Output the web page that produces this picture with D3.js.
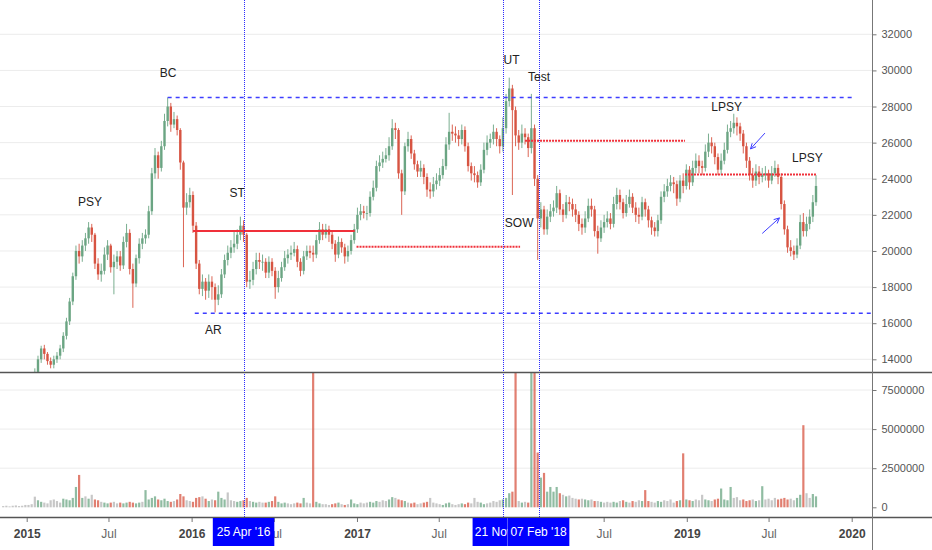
<!DOCTYPE html>
<html>
<head>
<meta charset="utf-8">
<script src="https://cdnjs.cloudflare.com/ajax/libs/d3/7.8.5/d3.min.js"></script>
<style>
  body { margin: 0; background: #fff; }
  svg { display: block; font-family: "Liberation Sans", Arial, sans-serif; }
</style>
</head>
<body>
<svg width="932" height="550"></svg>
<script>
// weekly bars, first week starts 10 Nov 2014
const firstWeek = "2014-11-10";
const firstOpen = 11600;

const closes = [
  11800, 12100, 11900, 12300, 12200, 12500, 12400, 12600,
  12800, 13000, 13300, 14000, 14600, 14300, 13900, 13700, 14000, 14200,
  14600, 15300, 16100, 17200, 18600, 20000, 19700, 20300, 20700, 21300,
  20900, 19300, 18700, 18900, 19800, 20300, 19100, 19400, 19700, 19200,
  20500, 21000, 19000, 18200, 19600, 20400, 20700, 20900, 22200, 24300,
  25300, 24600, 25800, 27200, 28000, 27000, 27300, 26700, 24900, 22400,
  22700, 23100, 21400, 19300, 17900, 18300, 17800, 18300, 18000, 17300,
  17600, 18700, 19500, 19900, 20200, 20400, 20900, 21400, 20900, 18300,
  18400, 19000, 19500, 19400, 19400, 18800, 19400, 18900, 18000, 18500,
  19100, 19600, 19800, 19900, 20100, 19400, 18900, 19700, 20000, 19900,
  19800, 20600, 21200, 20900, 21200, 20900, 20400, 19800, 20500, 20200,
  19700, 20000, 20600, 21200, 22000, 22200, 22100, 22100, 23000, 23500,
  24700, 24900, 25100, 25300, 25800, 26800, 26700, 24300, 23300, 25800,
  26200, 25400, 24800, 24400, 24600, 24100, 23400, 23300, 23700, 23900,
  24200, 24700, 25900, 26600, 26500, 26400, 26200, 26700, 25800, 24700,
  24300, 24200, 23800, 24500, 25600, 26000, 26200, 26600, 26200, 25800,
  26800, 28300, 29000, 27800, 26400, 26000, 26500, 26300, 25700, 26800,
  24000, 21800, 22300, 21200, 21900, 22200, 22400, 23200, 22300, 22000,
  22700, 22600, 22300, 22000, 21500, 21300, 21800, 22500, 22300, 21100,
  20700, 21300, 21600, 21800, 21500, 22600, 23100, 22700, 22100, 22600,
  23000, 22400, 22000, 21900, 22700, 22300, 21700, 21300, 21100, 21700,
  23000, 23300, 23600, 23800, 23700, 22900, 23900, 23600, 24500, 23800,
  24600, 25000, 24700, 24600, 25500, 26000, 25800, 25200, 24500, 25000,
  25600, 26600, 26800, 27100, 26900, 26500, 25800, 25000, 24200, 23900,
  24400, 24100, 24200, 24300, 23900, 24300, 24600, 24100, 22600, 21200,
  20200, 20000, 19800, 20300, 21600, 21100, 21500, 21900, 22700, 23600
];

const highs = [
  12200, 12400, 12300, 12600, 12500, 12800, 12800, 12900,
  13000, 13200, 13500, 14200, 14750, 14800, 14400, 14100, 14200, 14400,
  14800, 15500, 16300, 17400, 18800, 20300, 20400, 20600, 21000, 21600,
  21500, 21000, 19600, 19300, 20200, 20600, 20400, 19800, 20000, 20000,
  20800, 21500, 21200, 19300, 19800, 20700, 21000, 21200, 22500, 24600,
  25700, 25500, 26100, 27600, 28500, 28200, 27700, 27500, 26800, 25000,
  23200, 23500, 23300, 21600, 19500, 18700, 18500, 18700, 18600, 18200,
  18100, 19000, 19800, 20300, 20600, 21100, 21200, 21900, 21700, 21000,
  18900, 19400, 19900, 19900, 19800, 19600, 19700, 19600, 19100, 18900,
  19400, 20000, 20100, 20300, 20500, 20300, 19600, 20000, 20300, 20300,
  20300, 20900, 21600, 21500, 21500, 21400, 21100, 20600, 20800, 20700,
  20400, 20300, 20900, 21500, 22400, 22600, 22500, 22500, 23300, 23900,
  25000, 25300, 25500, 25700, 26300, 27300, 27100, 26800, 24500, 26000,
  26600, 26400, 25600, 25000, 25000, 24800, 24300, 23800, 24100, 24300,
  24600, 25100, 26300, 27650, 27000, 26900, 26700, 27000, 26900, 26000,
  24900, 24700, 24400, 24800, 26000, 26400, 26500, 27000, 26800, 26400,
  27400, 28700, 29600, 29200, 28000, 26700, 27000, 26800, 26500, 28700,
  27000, 24200, 22700, 22500, 22300, 22600, 22800, 23600, 23400, 22600,
  23100, 23000, 22900, 22600, 22200, 21800, 22200, 22900, 22900, 22500,
  21400, 21700, 22000, 22200, 22100, 23000, 23500, 23400, 22900, 23100,
  23400, 23200, 22700, 22400, 23000, 22900, 22500, 21900, 21600, 22000,
  23300, 23700, 24000, 24200, 24100, 23900, 24200, 24300, 24800, 24700,
  25000, 25400, 25300, 25000, 25900, 26500, 26300, 26000, 25400, 25400,
  26000, 27000, 27200, 27600, 27400, 27100, 26700, 26000, 25200, 24600,
  24800, 24700, 24600, 24700, 24500, 24700, 25000, 24800, 24300, 22800,
  21400, 20600, 20300, 20700, 22000, 22100, 21900, 22300, 23100, 24200
];

const lows = [
  11400, 11700, 11600, 11800, 11900, 12000, 12100, 12200,
  12400, 12600, 12800, 13200, 13800, 14000, 13700, 13500, 13500, 13800,
  14000, 14400, 15100, 15900, 17000, 18400, 19300, 19400, 20000, 20400,
  20500, 19000, 18400, 18300, 18700, 19500, 18800, 17600, 19000, 18900,
  19000, 20200, 18700, 16850, 18000, 19300, 20100, 20400, 20700, 22000,
  24000, 24000, 24400, 25600, 26900, 26600, 26800, 26400, 24500, 19100,
  22000, 22400, 21000, 19000, 17600, 17500, 17300, 17400, 17300, 16600,
  17000, 17400, 18500, 19200, 19600, 19900, 20100, 20600, 20500, 18000,
  17900, 18100, 18700, 19000, 18900, 18500, 18500, 18600, 17350, 17700,
  18300, 18900, 19300, 19500, 19700, 19100, 18600, 18700, 19500, 19600,
  19400, 19600, 20400, 20600, 20700, 20500, 20100, 19400, 19600, 19900,
  19300, 19400, 19800, 20400, 21000, 21700, 21800, 21700, 21900, 22800,
  23300, 24400, 24600, 24900, 25000, 25600, 26200, 24000, 22000, 23100,
  25500, 25100, 24500, 24100, 24100, 23700, 23000, 22900, 23000, 23400,
  23600, 24000, 24500, 25600, 26100, 26000, 25800, 25900, 25500, 24400,
  23900, 23800, 23500, 23600, 24300, 25300, 25700, 25900, 25800, 25400,
  25500, 26500, 28000, 23100, 25800, 25600, 25700, 25900, 25200, 25400,
  23600, 19500, 21300, 20900, 20900, 21600, 21900, 22100, 22000, 21600,
  21800, 22200, 21900, 21600, 21100, 20900, 21000, 21600, 21900, 20800,
  19850, 20500, 21000, 21300, 21200, 21300, 22300, 22300, 21800, 21900,
  22400, 22100, 21600, 21500, 21700, 21900, 21300, 20900, 20800, 20800,
  21500, 22700, 23000, 23300, 23200, 22500, 22700, 23200, 23400, 23400,
  23600, 24300, 24300, 24200, 24400, 25200, 25400, 24800, 24200, 24200,
  24800, 25400, 26300, 26500, 26400, 26100, 25400, 24600, 23900, 23500,
  23600, 23700, 23800, 23900, 23500, 23700, 24100, 23700, 22300, 20900,
  19900, 19700, 19500, 19600, 20100, 20800, 20800, 21200, 21600, 22500
];

// peak daily volume of each week, millions
const volumesM = [
  0.08, 0.1, 0.06, 0.1, 0.12, 0.08, 0.1, 0.15,
  0.15, 0.2, 0.68, 0.45, 0.35, 0.3, 0.25, 0.45, 0.5, 0.4,
  0.3, 0.55, 0.5, 0.45, 0.6, 1.3, 2.07, 0.6, 0.7, 0.55,
  0.8, 0.5, 0.45, 0.35, 0.3, 0.25, 0.3, 0.35, 0.25, 0.3,
  0.25, 0.3, 0.35, 0.3, 0.25, 0.3, 0.35, 1.1, 0.5, 0.6,
  0.7, 0.5, 0.45, 0.55, 0.4, 0.35, 0.4, 0.5, 0.85, 0.7,
  0.45, 0.4, 0.35, 0.6, 0.65, 0.7, 0.55, 0.4, 0.5, 0.45,
  1.0, 0.6, 0.5, 0.95, 0.45, 0.4, 0.35, 0.4, 0.45, 0.6,
  0.4, 0.35, 0.3, 0.35, 0.3, 0.3, 0.35, 0.4, 0.7, 0.35,
  0.25, 0.3, 0.25, 0.2, 0.25, 0.3, 0.25, 0.6, 0.3, 0.25,
  10, 0.35, 0.25, 0.2, 0.2, 0.15, 0.2, 0.25, 0.3, 0.2,
  0.15, 0.2, 0.5, 0.25, 0.2, 0.3, 0.25, 0.3, 0.35, 0.3,
  0.4, 0.35, 0.45, 0.4, 0.5, 0.65, 0.6, 0.5, 0.45, 0.4,
  0.3, 0.25, 0.3, 0.2, 0.25, 0.3, 0.35, 0.6, 0.3, 0.25,
  0.2, 0.15, 0.25, 0.3, 0.2, 0.15, 0.2, 0.25, 0.2, 0.3,
  0.25, 0.6, 0.35, 0.3, 0.2, 0.25, 0.3, 0.4, 0.35, 0.45,
  0.5, 0.6, 0.9, 1.0, 10, 0.4, 0.3, 0.35, 0.3, 10,
  10, 3.5, 1.9, 2.2, 1.0, 1.3, 1.0, 1.3, 0.9, 0.8,
  0.7, 0.75, 0.6, 0.55, 0.5, 0.55, 0.5, 0.45, 0.5, 0.4,
  0.4, 0.35, 0.3, 0.35, 0.3, 0.35, 0.3, 0.4, 0.45, 0.35,
  0.3, 0.4, 0.35, 0.45, 0.4, 1.1, 0.4, 0.35, 0.3, 0.4,
  0.35, 0.45, 0.4, 0.5, 0.3, 0.4, 0.45, 3.45, 0.5, 0.45,
  0.4, 0.5, 0.45, 0.8, 0.5, 0.45, 0.4, 0.5, 0.55, 1.2,
  0.5, 0.45, 1.3, 0.6, 0.65, 0.45, 0.5, 0.4, 0.45, 0.5,
  0.4, 0.45, 1.35, 0.5, 0.55, 0.45, 0.6, 0.5, 0.55, 0.6,
  0.5, 0.55, 0.45, 0.6, 0.8, 5.25, 0.9, 0.6, 0.85, 0.7
];

const priceTicks = [14000, 16000, 18000, 20000, 22000, 24000, 26000, 28000, 30000, 32000];
const volumeTicks = [0, 2500000, 5000000, 7500000];

// drawn levels: [start, end, price]
const redLevels = [
  ["2016-01-04", "2016-12-27", 21100],
  ["2016-12-31", "2017-12-28", 20230],
  ["2018-01-08", "2018-12-28", 26100],
  ["2018-12-28", "2019-10-15", 24240]
];
const blueLevels = [
  ["2015-11-09", "2020-01-01", 28500],
  ["2016-01-08", "2020-03-01", 16550]
];

const markerDates = ["2016-04-25", "2017-11-21", "2018-02-07"];
const markerLabels = ["25 Apr '16", "21 Nov '17", "07 Feb '18"];

const phaseNames = ["PSY", "BC", "AR", "ST", "UT", "Test", "SOW", "LPSY", "LPSY"];
const phaseDates = ["2015-05-21", "2015-11-10", "2016-02-18", "2016-04-11", "2017-12-09",
                    "2018-02-08", "2017-12-26", "2019-03-30", "2019-09-25"];
const phasePrices = [22730, 29870, 15620, 23230, 30610, 29620, 21560, 27990, 25160];

// arrows: [from date, from price, to date, to price]
const arrows = [
  ["2019-06-23", 26530, "2019-05-22", 25650],
  ["2019-06-17", 20970, "2019-07-25", 21830]
];

const upColor = "#6ba583", downColor = "#d75442", levelBlue = "#3d3dff";

const parseDay = d3.timeParse("%Y-%m-%d");
const svg = d3.select("svg");

const x = d3.scaleTime()
  .domain([parseDay("2015-01-01"), parseDay("2020-01-01")])
  .range([26.7, 851.7]);
const y = d3.scaleLinear().domain([14000, 32000]).range([359.3, 34.3]);
const yVol = d3.scaleLinear().domain([0, 7500000]).range([507.3, 390]);

const bars = closes.map(function(c, i) {
  return {
    date: d3.timeDay.offset(parseDay(firstWeek), 7 * i),
    open: i === 0 ? firstOpen : closes[i - 1],
    close: c,
    high: highs[i],
    low: lows[i],
    volume: volumesM[i] * 1e6
  };
});

/// clip paths /////
const defs = svg.append("defs");
defs.append("clipPath").attr("id", "clipPrice")
  .append("rect").attr("x", 0).attr("y", 0).attr("width", 872).attr("height", 372);
defs.append("clipPath").attr("id", "clipVol")
  .append("rect").attr("x", 0).attr("y", 373).attr("width", 872).attr("height", 144);

/// grid /////
svg.append("g").selectAll("line")
  .data(priceTicks)
  .enter().append("line")
    .attr("x1", 0).attr("x2", 872)
    .attr("y1", function(d) { return y(d); })
    .attr("y2", function(d) { return y(d); })
    .attr("stroke", "#ececec");

svg.append("g").selectAll("line")
  .data(volumeTicks.slice(1))
  .enter().append("line")
    .attr("x1", 0).attr("x2", 872)
    .attr("y1", function(d) { return yVol(d); })
    .attr("y2", function(d) { return yVol(d); })
    .attr("stroke", "#ececec");

/// volume /////
function volumeColor(d) {
  let big = d.volume >= 1e6 || Math.abs(d.close - d.open) >= 500;
  if (!big) return "#b4b4b4";
  return d.close >= d.open ? upColor : downColor;
}

svg.append("g").attr("clip-path", "url(#clipVol)")
  .selectAll("rect")
  .data(bars)
  .enter().append("rect")
    .attr("x", function(d) { return x(d.date) - 1.1; })
    .attr("width", 2.2)
    .attr("y", function(d) { return yVol(d.volume); })
    .attr("height", function(d) { return yVol(0) - yVol(d.volume); })
    .attr("fill", volumeColor)
    .attr("fill-opacity", 0.75);

/// candles /////
const candles = svg.append("g").attr("clip-path", "url(#clipPrice)")
  .selectAll("g")
  .data(bars)
  .enter().append("g");

candles.append("line")
  .attr("x1", function(d) { return x(d.date); })
  .attr("x2", function(d) { return x(d.date); })
  .attr("y1", function(d) { return y(d.high); })
  .attr("y2", function(d) { return y(d.low); })
  .attr("stroke", function(d) { return d.close >= d.open ? upColor : downColor; })
  .attr("stroke-width", 0.9);

candles.append("rect")
  .attr("x", function(d) { return x(d.date) - 1.2; })
  .attr("width", 2.4)
  .attr("y", function(d) { return y(Math.max(d.open, d.close)); })
  .attr("height", function(d) { return Math.max(0.8, Math.abs(y(d.open) - y(d.close))); })
  .attr("fill", function(d) { return d.close >= d.open ? upColor : downColor; });

/// levels /////
const levels = svg.append("g").attr("clip-path", "url(#clipPrice)");

levels.selectAll("line.red")
  .data(redLevels)
  .enter().append("line")
    .attr("class", "red")
    .attr("x1", function(d) { return x(parseDay(d[0])); })
    .attr("x2", function(d) { return x(parseDay(d[1])); })
    .attr("y1", function(d) { return y(d[2]); })
    .attr("y2", function(d) { return y(d[2]); })
    .attr("stroke", "#f0303a")
    .attr("stroke-width", 2)
    .attr("stroke-dasharray", function(d, i) { return i === 0 ? null : "2,1"; });

levels.selectAll("line.blue")
  .data(blueLevels)
  .enter().append("line")
    .attr("class", "blue")
    .attr("x1", function(d) { return x(parseDay(d[0])); })
    .attr("x2", function(d) { return x(parseDay(d[1])); })
    .attr("y1", function(d) { return y(d[2]); })
    .attr("y2", function(d) { return y(d[2]); })
    .attr("stroke", levelBlue)
    .attr("stroke-width", 1.5)
    .attr("stroke-dasharray", "4,4");

/// vertical date markers /////
svg.append("g").selectAll("line")
  .data(markerDates)
  .enter().append("line")
    .attr("x1", function(d) { return Math.round(x(parseDay(d))) + 0.5; })
    .attr("x2", function(d) { return Math.round(x(parseDay(d))) + 0.5; })
    .attr("y1", 0).attr("y2", 518)
    .attr("stroke", "#2b2bff")
    .attr("stroke-width", 1)
    .attr("shape-rendering", "crispEdges")
    .attr("stroke-dasharray", "1,1");

/// phase labels and arrows /////
svg.append("g").selectAll("text")
  .data(phaseNames)
  .enter().append("text")
    .attr("x", function(d, i) { return x(parseDay(phaseDates[i])); })
    .attr("y", function(d, i) { return y(phasePrices[i]); })
    .attr("dy", "0.35em")
    .attr("text-anchor", "middle")
    .attr("font-size", 12)
    .attr("fill", "#222")
    .text(function(d) { return d; });

function drawArrow(a) {
  let x0 = x(parseDay(a[0])), y0 = y(a[1]);
  let x1 = x(parseDay(a[2])), y1 = y(a[3]);
  let ang = Math.atan2(y1 - y0, x1 - x0);
  let head = 6;
  let path = d3.path();
  path.moveTo(x0, y0);
  path.lineTo(x1, y1);
  path.moveTo(x1 - head * Math.cos(ang - 0.45), y1 - head * Math.sin(ang - 0.45));
  path.lineTo(x1, y1);
  path.lineTo(x1 - head * Math.cos(ang + 0.45), y1 - head * Math.sin(ang + 0.45));
  svg.append("path")
    .attr("d", path.toString())
    .attr("fill", "none")
    .attr("stroke", levelBlue)
    .attr("stroke-width", 1);
}
arrows.forEach(drawArrow);

/// pane borders /////
svg.append("line").attr("x1", 0).attr("x2", 932).attr("y1", 372.5).attr("y2", 372.5)
  .attr("stroke", "#555").attr("stroke-width", 1.5);
svg.append("line").attr("x1", 0).attr("x2", 932).attr("y1", 517.5).attr("y2", 517.5)
  .attr("stroke", "#555").attr("stroke-width", 1.5);
svg.append("line").attr("x1", 872.5).attr("x2", 872.5).attr("y1", 0).attr("y2", 550)
  .attr("stroke", "#777").attr("stroke-width", 1);

/// axes /////
function styleAxis(g) {
  g.select(".domain").remove();
  g.selectAll(".tick line").attr("stroke", "#777");
  g.selectAll(".tick text").attr("fill", "#555").attr("font-size", 11)
    .attr("font-family", "'Liberation Sans', Arial, sans-serif");
}

svg.append("g")
  .attr("transform", "translate(872.5,0)")
  .call(d3.axisRight(y).tickValues(priceTicks).tickSize(4).tickPadding(5)
          .tickFormat(d3.format("d")))
  .call(styleAxis);

svg.append("g")
  .attr("transform", "translate(872.5,0)")
  .call(d3.axisRight(yVol).tickValues(volumeTicks).tickSize(4).tickPadding(5)
          .tickFormat(d3.format("d")))
  .call(styleAxis);

// time ticks hidden completely behind a marker box get no label
function underBox(d) {
  return markerDates.some(function(m) { return Math.abs(x(parseDay(m)) - x(d)) < 20; });
}

let timeAxis = svg.append("g")
  .attr("transform", "translate(0,518)")
  .call(d3.axisBottom(x).ticks(d3.timeMonth.every(6)).tickSize(4).tickPadding(7)
          .tickFormat(function(d) {
            if (underBox(d)) return "";
            return d.getMonth() === 0 ? d.getFullYear() : "Jul";
          }))
  .call(styleAxis);

timeAxis.selectAll(".tick text")
  .attr("font-size", 12)
  .attr("font-weight", function(d) { return d.getMonth() === 0 ? "bold" : "normal"; })
  .attr("fill", function(d) { return d.getMonth() === 0 ? "#444" : "#666"; });

/// marker date boxes /////
// a box that runs under the next one keeps only its visible part of the label
markerDates.forEach(function(m, i) {
  let cx = x(parseDay(m));
  let right = cx + 31;
  if (i < markerDates.length - 1) right = Math.min(right, x(parseDay(markerDates[i + 1])) - 31);
  defs.append("clipPath").attr("id", "clipBox" + i)
    .append("rect").attr("x", cx - 31).attr("y", 518).attr("width", right - cx + 31).attr("height", 28);
});

const boxes = svg.append("g").selectAll("g")
  .data(markerDates)
  .enter().append("g")
    .attr("clip-path", function(d, i) { return "url(#clipBox" + i + ")"; });

boxes.append("rect")
  .attr("x", function(d) { return x(parseDay(d)) - 31; })
  .attr("width", 62)
  .attr("y", 518).attr("height", 28)
  .attr("fill", "#0000ff");

boxes.append("text")
  .attr("x", function(d) { return x(parseDay(d)); })
  .attr("y", 536)
  .attr("text-anchor", "middle")
  .attr("font-size", 12)
  .attr("fill", "#fff")
  .text(function(d, i) { return markerLabels[i]; });
</script>
</body>
</html>
